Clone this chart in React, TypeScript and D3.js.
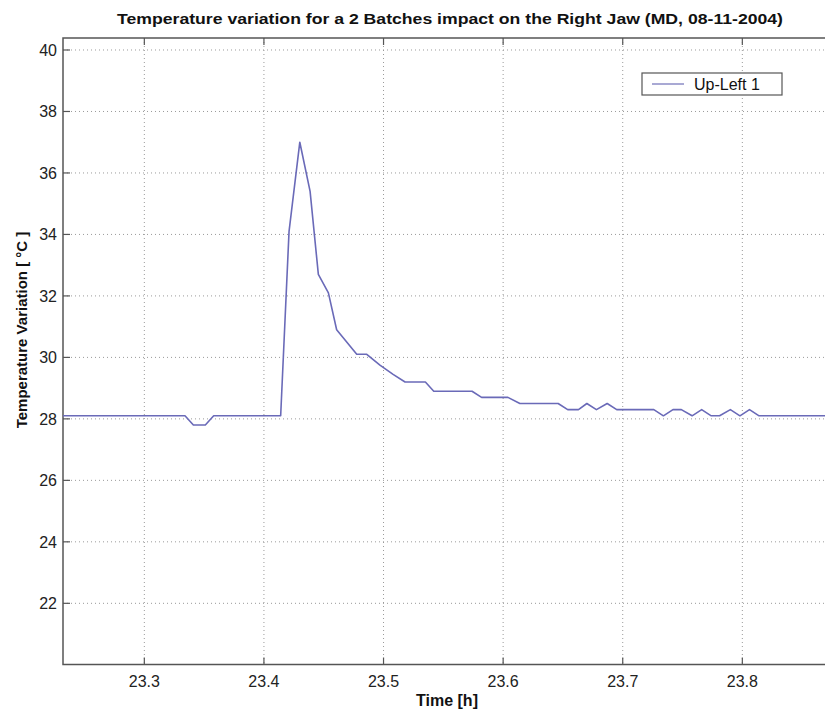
import React from "react";
import * as d3 from "d3";

const timeH: number[] = [
  23.232, 23.334, 23.341, 23.351, 23.358, 23.414, 23.421, 23.43, 23.4386, 23.4455,
  23.4539, 23.4608, 23.4776, 23.486, 23.497, 23.508, 23.518, 23.535, 23.542, 23.574,
  23.582, 23.604, 23.614, 23.646, 23.654, 23.663, 23.67, 23.678, 23.687, 23.695,
  23.726, 23.734, 23.742, 23.749, 23.758, 23.766, 23.774, 23.781, 23.79, 23.798,
  23.806, 23.814, 23.875,
];
const upLeft1: number[] = [
  28.1, 28.1, 27.8, 27.8, 28.1, 28.1, 34.1, 37.0, 35.4, 32.7,
  32.1, 30.9, 30.1, 30.1, 29.75, 29.45, 29.2, 29.2, 28.9, 28.9,
  28.7, 28.7, 28.5, 28.5, 28.3, 28.3, 28.5, 28.3, 28.5, 28.3,
  28.3, 28.1, 28.3, 28.3, 28.1, 28.3, 28.1, 28.1, 28.3, 28.1,
  28.3, 28.1, 28.1,
];
const xTicks: number[] = [23.3, 23.4, 23.5, 23.6, 23.7, 23.8];
const yTicks: number[] = [22, 24, 26, 28, 30, 32, 34, 36, 38, 40];
const titleText = "Temperature variation for a 2 Batches impact on the Right Jaw (MD, 08-11-2004)";
const xLabel = "Time [h]";
const yLabel = "Temperature Variation [ °C ]";
const seriesName = "Up-Left 1";

const W = 825;
const H = 714;
const L = 63;
const R = 830;
const T = 38;
const B = 664.5;

export default function App() {
  const x = d3.scaleLinear().domain([23.232, 23.8733]).range([L, R]);
  const y = d3.scaleLinear().domain([20.0, 40.4]).range([664.8, 37.7]);
  const line = d3
    .line<number>()
    .x((_, i) => x(timeH[i]))
    .y((d) => y(d));
  const font = "'Liberation Sans', Arial, Helvetica, sans-serif";
  const gridColor = "#9a9a9a";
  const axisColor = "#555";
  return (
    <svg
      width={W}
      height={H}
      style={{ position: "absolute", left: 0, top: 0, background: "#fff" }}
      fontFamily={font}
    >
      <rect x={0} y={0} width={W} height={H} fill="#fff" />
      {xTicks.map((t) => (
        <line
          key={"gx" + t}
          x1={x(t)}
          x2={x(t)}
          y1={T}
          y2={B}
          stroke={gridColor}
          strokeWidth={1}
          strokeDasharray="1,3"
        />
      ))}
      {yTicks.map((t) => (
        <line
          key={"gy" + t}
          x1={L}
          x2={R}
          y1={y(t)}
          y2={y(t)}
          stroke={gridColor}
          strokeWidth={1}
          strokeDasharray="1,3"
        />
      ))}
      {xTicks.map((t) => (
        <g key={"tx" + t}>
          <line x1={x(t)} x2={x(t)} y1={B} y2={B - 7} stroke={axisColor} strokeWidth={1.2} />
          <line x1={x(t)} x2={x(t)} y1={T} y2={T + 7} stroke={axisColor} strokeWidth={1.2} />
          <text x={x(t)} y={687} textAnchor="middle" fontSize={16} fill="#222">
            {t.toFixed(1)}
          </text>
        </g>
      ))}
      {yTicks.map((t) => (
        <g key={"ty" + t}>
          <line x1={L} x2={L + 7} y1={y(t)} y2={y(t)} stroke={axisColor} strokeWidth={1.2} />
          <text x={57} y={y(t) + 6} textAnchor="end" fontSize={16} fill="#222">
            {t}
          </text>
        </g>
      ))}
      <rect
        x={L}
        y={T}
        width={R - L}
        height={B - T}
        fill="none"
        stroke={axisColor}
        strokeWidth={1.5}
      />
      <path
        d={line(upLeft1) || ""}
        fill="none"
        stroke="#6a6ab8"
        strokeWidth={1.6}
        strokeLinejoin="round"
      />
      <rect x={642} y={73} width={140} height={22} fill="#fff" stroke={axisColor} strokeWidth={1.2} />
      <line x1={652} x2={684} y1={84} y2={84} stroke="#a0a0d0" strokeWidth={1.8} />
      <text x={694} y={90} fontSize={16} fill="#111">
        {seriesName}
      </text>
      <text
        x={450}
        y={24}
        textAnchor="middle"
        fontSize={14.5}
        fontWeight="bold"
        fill="#111"
        textLength={666}
        lengthAdjust="spacingAndGlyphs"
      >
        {titleText}
      </text>
      <text x={447} y={706} textAnchor="middle" fontSize={16} fontWeight="bold" fill="#111">
        {xLabel}
      </text>
      <text
        transform="translate(27,330) rotate(-90)"
        textAnchor="middle"
        fontSize={15}
        fontWeight="bold"
        fill="#111"
      >
        {yLabel}
      </text>
    </svg>
  );
}
